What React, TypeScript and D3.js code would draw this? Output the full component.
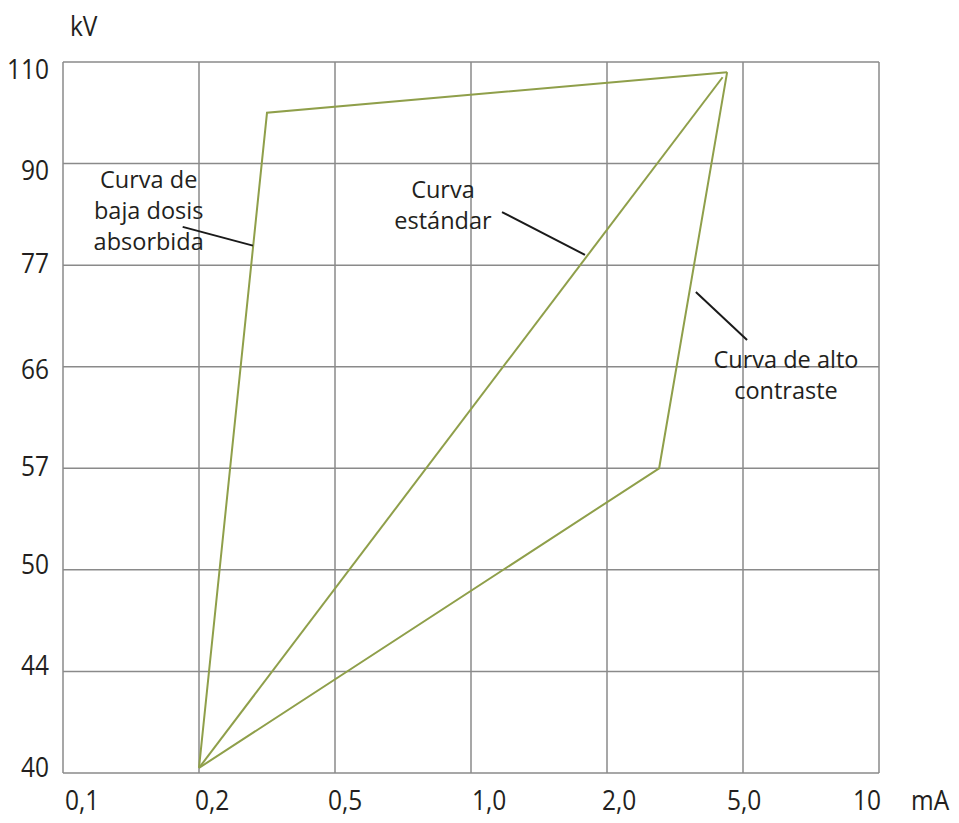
import React from "react";
import * as d3 from "d3";

// ---- data ----
const mATicks = [0.1, 0.2, 0.5, 1.0, 2.0, 5.0, 10];
const mATickLabels = ["0,1", "0,2", "0,5", "1,0", "2,0", "5,0", "10"];
const kVTicks = [40, 44, 50, 57, 66, 77, 90, 110];
const kVTickLabels = ["40", "44", "50", "57", "66", "77", "90", "110"];

const lowDoseCurve = [
  { mA: 0.2, kV: 40.2 },
  { mA: 0.35, kV: 100 },
  { mA: 4.65, kV: 108 },
];
const standardCurve = [
  { mA: 0.2, kV: 40.2 },
  { mA: 4.55, kV: 107 },
];
const highContrastCurve = [
  { mA: 0.2, kV: 40.2 },
  { mA: 3.15, kV: 57 },
  { mA: 4.65, kV: 108 },
];

const annotations = [
  { lines: ["Curva de", "baja dosis", "absorbida"], textMA: 0.163, textKV: 86.9, from: { mA: 0.188, kV: 81.9 }, to: { mA: 0.319, kV: 79.5 } },
  { lines: ["Curva", "estándar"], textMA: 0.897, textKV: 85.6, from: { mA: 1.228, kV: 83.8 }, to: { mA: 1.838, kV: 78.3 } },
  { lines: ["Curva de alto", "contraste"], textMA: 6.58, textKV: 65.9, from: { mA: 3.96, kV: 74.1 }, to: { mA: 5.15, kV: 68.9 } },
];

// ---- layout ----
const W = 959;
const H = 823;
const left = 63;
const right = 879;
const top = 62;
const bottom = 773;
const FONT = "'Open Sans', 'Noto Sans', sans-serif";
const TEXT = "#231f20";
const GRID = "#8a8a8a";
const CURVE = "#8f9f4a";
const FS = 24.5;
const SY = 1.1;
const ANN_FS = 23.5;
const yLabelDy = [-5, -5, -5, -1, 3, -1, 7, 8];
const xLabelDx = [2, -4, -7, 1, -5, -16, -26];

function T({ x, y, anchor = "start", children }: { x: number; y: number; anchor?: string; children: React.ReactNode }) {
  return (
    <g transform={`translate(${x},${y}) scale(1,${SY})`}>
      <text x={0} y={0} textAnchor={anchor as any} fontSize={FS} fill={TEXT}>
        {children}
      </text>
    </g>
  );
}

export default function App() {
  const x = d3
    .scaleLinear()
    .domain(mATicks)
    .range(mATicks.map((_, i) => left + (i * (right - left)) / (mATicks.length - 1)));
  const y = d3
    .scaleLinear()
    .domain(kVTicks)
    .range(kVTicks.map((_, i) => bottom - (i * (bottom - top)) / (kVTicks.length - 1)));

  const line = d3
    .line<{ mA: number; kV: number }>()
    .x((d) => x(d.mA))
    .y((d) => y(d.kV));

  const curves = [lowDoseCurve, standardCurve, highContrastCurve];

  return (
    <svg width={W} height={H} style={{ position: "absolute", left: 0, top: 0, background: "#fff" }} fontFamily={FONT}>
      {/* grid */}
      {mATicks.map((t, i) => (
        <line key={"vx" + i} x1={x(t)} x2={x(t)} y1={top} y2={bottom} stroke={GRID} strokeWidth={1.5} />
      ))}
      {kVTicks.map((t, i) => (
        <line key={"hy" + i} x1={left} x2={right} y1={y(t)} y2={y(t)} stroke={GRID} strokeWidth={1.5} />
      ))}

      {/* curves */}
      {curves.map((c, i) => (
        <path key={"c" + i} d={line(c) || ""} fill="none" stroke={CURVE} strokeWidth={2} strokeLinejoin="miter" />
      ))}

      {/* y tick labels */}
      {kVTicks.map((t, i) => (
        <T key={"yl" + i} x={49} y={y(t) + yLabelDy[i] + 9} anchor="end">
          {kVTickLabels[i]}
        </T>
      ))}
      {/* x tick labels */}
      {mATicks.map((t, i) => (
        <T key={"xl" + i} x={x(t) + xLabelDx[i]} y={810}>
          {mATickLabels[i]}
        </T>
      ))}

      {/* axis units */}
      <T x={70} y={36}>kV</T>
      <T x={911} y={810}>mA</T>

      {/* annotations */}
      {annotations.map((a, i) => (
        <g key={"a" + i}>
          <line x1={x(a.from.mA)} y1={y(a.from.kV)} x2={x(a.to.mA)} y2={y(a.to.kV)} stroke="#1a1a1a" strokeWidth={2} />
          {a.lines.map((l, j) => (
            <text
              key={j}
              x={x(a.textMA)}
              y={y(a.textKV) + j * 31}
              textAnchor="middle"
              fontSize={ANN_FS}
              fill={TEXT}
            >
              {l}
            </text>
          ))}
        </g>
      ))}
    </svg>
  );
}
